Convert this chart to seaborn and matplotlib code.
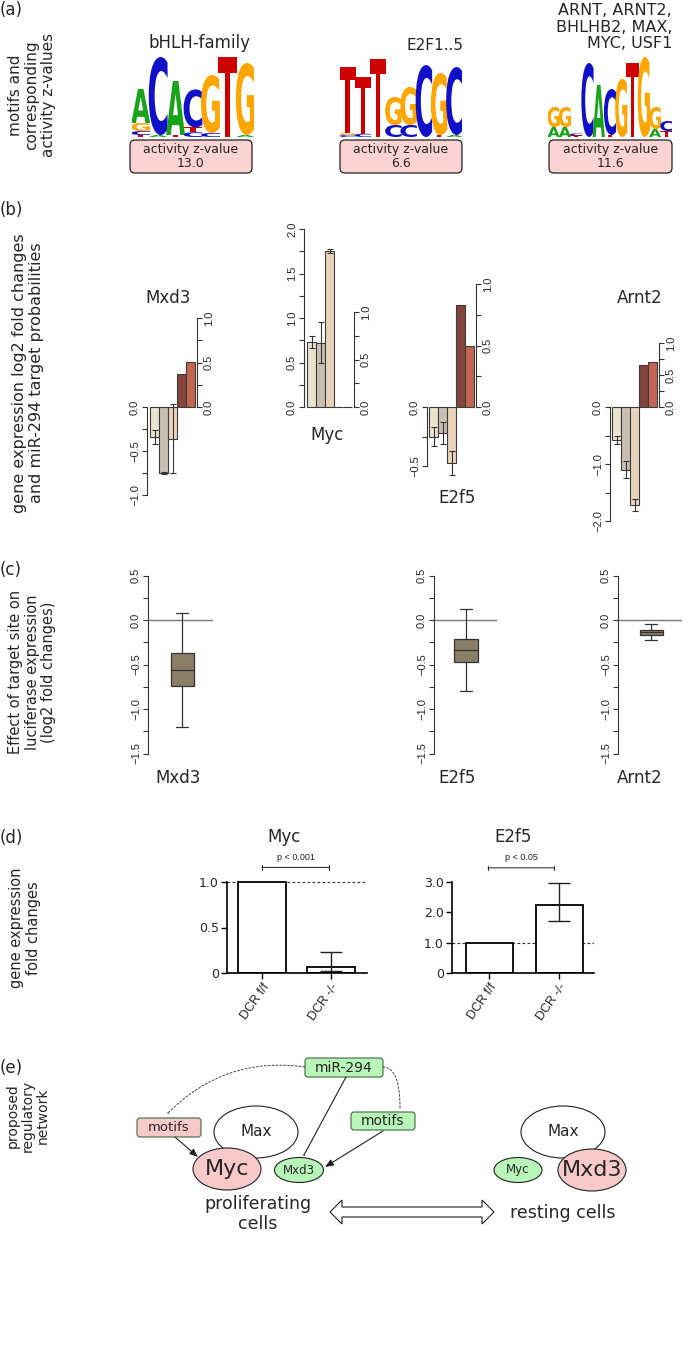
import numpy as np
import pandas as pd
import matplotlib
matplotlib.use('Agg')
import matplotlib.pyplot as plt
import seaborn as sns
from matplotlib.textpath import TextPath
from matplotlib.font_manager import FontProperties
from matplotlib.transforms import Affine2D
from matplotlib.patches import PathPatch, FancyBboxPatch, Ellipse, FancyArrowPatch, Polygon

sns.set_style('white')
plt.rcParams['font.family'] = ['DejaVu Sans']

# ---------------- data ----------------
# (a) motif logos: each position = letters stacked from the bottom, height in bits
logo_bhlh = [[('T', .05), ('C', .1), ('G', .2), ('A', .85)],
             [('A', .05), ('C', 1.95)],
             [('T', .05), ('A', 1.35)],
             [('C', .12), ('T', .12), ('C', .95)],
             [('C', .1), ('G', 1.45)],
             [('T', 2.0)],
             [('A', .05), ('G', 1.8)]]
logo_e2f = [[('C', .05), ('G', .05), ('T', 1.65)],
            [('C', .08), ('T', 1.42)],
            [('T', 1.95)],
            [('C', .3), ('G', .7)],
            [('C', .3), ('G', .95)],
            [('C', 1.8)],
            [('T', .05), ('G', 1.55)],
            [('A', .05), ('C', 1.7)]]
logo_arnt = [[('A', .25), ('G', .5)],
             [('A', .25), ('G', .5)],
             [('T', .04), ('C', .05)],
             [('C', 1.85)],
             [('A', 1.3)],
             [('T', .05), ('C', 1.15)],
             [('G', 1.45)],
             [('T', 1.85)],
             [('G', 2.0)],
             [('A', .2), ('G', .55)],
             [('T', .15), ('C', .25)]]
motif_names = ['bHLH-family', 'E2F1..5', 'ARNT, ARNT2,\nBHLHB2, MAX,\nMYC, USF1']
activity_z = [13.0, 6.6, 11.6]

# (b) log2 fold changes (3 conditions) with errors, and miR-294 target probabilities
mxd3_fc = [-0.34, -0.75, -0.36]
mxd3_err = [0.08, 0.01, 0.39]
mxd3_prob = [0.37, 0.51]
myc_fc = [0.73, 0.72, 1.75]
myc_err = [0.07, 0.23, 0.02]
myc_prob = [0.0, 0.0]
e2f5_fc = [-0.25, -0.22, -0.475]
e2f5_err = [0.08, 0.09, 0.10]
e2f5_prob = [0.83, 0.50]
arnt2_fc = [-0.58, -1.10, -1.72]
arnt2_err = [0.07, 0.15, 0.10]
arnt2_prob = [0.66, 0.70]

# (c) luciferase log2 fold changes: whisker low, q1, median, q3, whisker high
mxd3_luc = [-1.20, -0.74, -0.56, -0.37, 0.08]
e2f5_luc = [-0.80, -0.47, -0.34, -0.21, 0.12]
arnt2_luc = [-0.23, -0.17, -0.14, -0.11, -0.04]

# (d) fold changes in DCR f/f vs DCR -/-
dcr_groups = ['DCR f/f', 'DCR -/-']
myc_fold = [1.0, 0.07]
myc_fold_lo = [0.0, 0.05]
myc_fold_hi = [0.0, 0.16]
e2f5_fold = [1.0, 2.25]
e2f5_fold_lo = [0.0, 0.53]
e2f5_fold_hi = [0.0, 0.72]
p_labels = ['p < 0.001', 'p < 0.05']

# ---------------- figure ----------------
W, H = 697, 1351
fig = plt.figure(figsize=(W / 100, H / 100), dpi=100)


def px_axes(x0, x1, y0, y1):
    return fig.add_axes([x0 / W, 1 - y1 / H, (x1 - x0) / W, (y1 - y0) / H])


RFONT = 'Liberation Sans'
LOGO_COL = {'A': '#19a319', 'C': '#1010c8', 'G': '#ffa500', 'T': '#cf0000'}
logo_font = FontProperties(family='DejaVu Sans', weight='bold')


def draw_logo(ax, logo):
    for i, col in enumerate(logo):
        base = 0
        for ch, h in col:
            tp = TextPath((0, 0), ch, size=1, prop=logo_font)
            bb = tp.get_extents()
            tr = (Affine2D().translate(-bb.x0, -bb.y0)
                  .scale(1.08 / bb.width, h / bb.height).translate(i - 0.04, base))
            ax.add_patch(PathPatch(tr.transform_path(tp), fc=LOGO_COL[ch], ec='none'))
            base += h
    ax.set_xlim(0, len(logo))
    ax.set_ylim(0, 2)
    ax.axis('off')


# (a) logos
for logo, (x0, x1) in zip([logo_bhlh, logo_e2f, logo_arnt], [(132, 254), (340, 462), (548, 672)]):
    draw_logo(px_axes(x0, x1, 57, 137), logo)

# (b) expression bars
beige = ['#efe7c9', '#cdbfad', '#f0d4b2']
reds = ['#8e3b2f', '#d5583f']


def fmt(v):
    return ('%.1f' % v).replace('-', '\u2212')


def expr_panel(fc, err, prob, spine_l, bar0, spine_r, s_l, s_r, lbounds, lmajor, lminor):
    y0, ytop, ybot = 407, 215, 530
    ax = px_axes(spine_l, spine_r, ytop, ybot)
    ax.patch.set_alpha(0)
    ax2 = ax.twinx()
    xs, xr = [0, 1, 2], [3, 4]
    sns.barplot(x=xs, y=fc, hue=['c1', 'c2', 'c3'], palette=beige, native_scale=True,
                width=1, dodge=False, legend=False, errorbar=None,
                edgecolor='#3c3c3c', linewidth=0.8, ax=ax)
    ax.errorbar(xs, fc, yerr=err, fmt='none', ecolor='#333333', elinewidth=0.8,
                capsize=2, capthick=0.8)
    sns.barplot(x=xr, y=prob, hue=['p1', 'p2'], palette=reds, native_scale=True,
                width=1, dodge=False, legend=False, errorbar=None,
                edgecolor='#3c3c3c', linewidth=0.8, ax=ax2)
    ax.set_ylim(-(ybot - y0) / s_l, (y0 - ytop) / s_l)
    ax2.set_ylim(-(ybot - y0) / s_r, (y0 - ytop) / s_r)
    xl = -0.5 - (bar0 - spine_l) / 9
    ax.set_xlim(xl, xl + (spine_r - spine_l) / 9)
    for a in (ax, ax2):
        a.set_xticks([])
        a.set_ylabel('')
        a.set_xlabel('')
        for s in a.spines.values():
            s.set_visible(False)
    ax.spines['left'].set_visible(True)
    ax.spines['left'].set_bounds(*lbounds)
    ax2.spines['right'].set_visible(True)
    ax2.spines['right'].set_bounds(0, 1)
    for a, side in ((ax, 'left'), (ax2, 'right')):
        a.spines[side].set_color('#333333')
        a.spines[side].set_linewidth(0.8)
    ax.set_yticks(lmajor)
    ax.set_yticks(lminor, minor=True)
    ax.set_yticklabels([fmt(v) for v in lmajor], rotation=90, va='center',
                       fontfamily=RFONT, fontsize=8)
    ax2.set_yticks([0, 0.5, 1.0])
    ax2.set_yticks([0.25, 0.75], minor=True)
    ax2.set_yticklabels([fmt(v) for v in [0, 0.5, 1.0]], rotation=90, va='center',
                        fontfamily=RFONT, fontsize=8)
    ax.tick_params(axis='y', which='both', left=True, right=False, direction='out',
                   length=3.5, width=0.8, color='#333333', pad=1.5)
    ax2.tick_params(axis='y', which='both', right=True, left=False, direction='out',
                    length=3.5, width=0.8, color='#333333', pad=1.5)


expr_panel(mxd3_fc, mxd3_err, mxd3_prob, 147, 150, 197, 88, 89, (-1, 0),
           [0, -0.5, -1.0], [-0.25, -0.75])
expr_panel(myc_fc, myc_err, myc_prob, 304, 307, 354, 89, 95, (0, 2),
           [0, 0.5, 1.0, 1.5, 2.0], [0.25, 0.75, 1.25, 1.75])
expr_panel(e2f5_fc, e2f5_err, e2f5_prob, 427, 429, 476, 118, 123, (-0.5, 0),
           [0, -0.5], [-0.25])
expr_panel(arnt2_fc, arnt2_err, arnt2_prob, 610, 612, 659, 57, 64, (-2, 0),
           [0, -1.0, -2.0], [-0.5, -1.5])

# (c) luciferase boxplots
box_col = '#8b7e66'


def luc_panel(vals, spine_l, center, box_w, right):
    y0, ytop, ybot, s = 620, 565, 762, 89
    ax = px_axes(spine_l, right, ytop, ybot)
    ax.patch.set_alpha(0)
    sns.boxplot(y=vals, width=0.4, color=box_col, linecolor='#333333', linewidth=0.9,
                saturation=1, ax=ax)
    ax.axhline(0, color='#7a7a7a', lw=1.0, zorder=0)
    unit = box_w / 0.4
    ax.set_xlim(-(center - spine_l) / unit, (right - center) / unit)
    ax.set_ylim(-(ybot - y0) / s, (y0 - ytop) / s)
    ax.set_xticks([])
    ax.set_ylabel('')
    for k in ('top', 'right', 'bottom'):
        ax.spines[k].set_visible(False)
    ax.spines['left'].set_bounds(-1.5, 0.5)
    ax.spines['left'].set_color('#333333')
    ax.spines['left'].set_linewidth(0.8)
    major = [0.5, 0.0, -0.5, -1.0, -1.5]
    ax.set_yticks(major)
    ax.set_yticks([0.25, -0.25, -0.75, -1.25], minor=True)
    ax.set_yticklabels([fmt(v) for v in major], rotation=90, va='center',
                       fontfamily=RFONT, fontsize=8)
    ax.tick_params(axis='y', which='both', left=True, direction='out', length=3.5,
                   width=0.8, color='#333333', pad=1.5)


luc_panel(mxd3_luc, 148, 182, 23, 213)
luc_panel(e2f5_luc, 434, 466, 24, 497)
luc_panel(arnt2_luc, 618, 651, 23, 682)


# (d) qPCR fold changes
def fold_panel(vals, lo, hi, left, right, c0, c1, bw, s, ymax, yt, ytl, bracket, ptxt):
    y0, ytop, ybot = 973, 850, 973
    ax = px_axes(left, right, ytop, ybot)
    ax.patch.set_alpha(0)
    sp = c1 - c0
    sns.barplot(x=dcr_groups, y=vals, color='white', edgecolor='black', linewidth=1.3,
                width=bw / sp, errorbar=None, saturation=1, ax=ax)
    ax.errorbar([1], [vals[1]], yerr=[[lo[1]], [hi[1]]], fmt='none', ecolor='#222222',
                elinewidth=1.0, capsize=8, capthick=1.0)
    ax.axhline(1.0, color='#333333', lw=0.8, ls=(0, (2.5, 2)), zorder=0)
    ax.set_xlim(-(c0 - left) / sp, 1 + (right - c1) / sp)
    ax.set_ylim(0, (y0 - ytop) / s)
    for k in ('top', 'right'):
        ax.spines[k].set_visible(False)
    for k in ('left', 'bottom'):
        ax.spines[k].set_color('black')
        ax.spines[k].set_linewidth(1.2)
    ax.spines['left'].set_bounds(0, ymax)
    ax.set_yticks(yt)
    ax.set_yticklabels(ytl, fontsize=9)
    ax.set_xticks([0, 1])
    ax.set_xticklabels(dcr_groups, rotation=55, ha='right', rotation_mode='anchor',
                       fontfamily=RFONT, fontsize=9)
    ax.tick_params(axis='both', left=True, bottom=True, direction='out', length=4,
                   width=1.0, color='black', pad=2)
    ax.set_xlabel('')
    ax.set_ylabel('')
    bx0, bx1, by = bracket
    ax.annotate('', xy=(bx0, by), xytext=(bx1, by), annotation_clip=False,
                arrowprops=dict(arrowstyle='|-|,widthA=0.15,widthB=0.15', lw=0.8,
                                color='#333333', shrinkA=0, shrinkB=0))
    ax.text((bx0 + bx1) / 2, by + 0.06 * ymax, ptxt, ha='center', va='bottom',
            fontfamily=RFONT, fontsize=6.5, color='#222222')


fold_panel(myc_fold, myc_fold_lo, myc_fold_hi, 227, 367, 262, 331, 48, 91, 1.0,
           [0, 0.5, 1.0], ['0', '0.5', '1.0'], (0.0, 0.97, 1.16), p_labels[0])
fold_panel(e2f5_fold, e2f5_fold_lo, e2f5_fold_hi, 452, 594, 489.5, 559, 47, 30.3, 3.0,
           [0, 1, 2, 3], ['0', '1.0', '2.0', '3.0'], (-0.02, 0.93, 3.47), p_labels[1])

# ---------------- overlay: texts, boxes and the network sketch ----------------
ov = fig.add_axes([0, 0, 1, 1], zorder=10)
ov.set_xlim(0, W)
ov.set_ylim(H, 0)
ov.axis('off')

for lab, y in zip(['(a)', '(b)', '(c)', '(d)', '(e)'], [10, 210, 570, 838, 1068]):
    ov.text(0, y, lab, ha='left', va='center', fontsize=12)

ov.text(32, 95, 'motifs and\ncorresponding\nactivity z-values', rotation=90,
        ha='center', va='center', fontsize=11, linespacing=1.1)
ov.text(28, 373, 'gene expression log2 fold changes\nand miR-294 target probabilities',
        rotation=90, ha='center', va='center', fontsize=11.5, linespacing=1.1)
ov.text(32, 672, 'Effect of target site on\nluciferase expression\n(log2 fold changes)',
        rotation=90, ha='center', va='center', fontsize=10.5, linespacing=1.1)
ov.text(25, 928, 'gene expression\nfold changes', rotation=90,
        ha='center', va='center', fontsize=10.5, linespacing=1.1)
ov.text(28, 1116, 'proposed\nregulatory\nnetwork', rotation=90,
        ha='center', va='center', fontsize=10, linespacing=1.1)

# (a) motif names and activity boxes
ov.text(200, 43, motif_names[0], ha='center', va='center', fontsize=12)
ov.text(463, 45, motif_names[1], ha='right', va='center', fontsize=11)
ov.text(672, 27, motif_names[2], ha='right', va='center', fontsize=11.5, linespacing=1.15)
for z, (x0, x1) in zip(activity_z, [(130, 252), (340, 462), (549, 672)]):
    ov.add_patch(FancyBboxPatch((x0, 140), x1 - x0, 33, boxstyle='round,pad=0,rounding_size=5',
                                fc='#fbd3d3', ec='#222222', lw=0.9))
    ov.text((x0 + x1) / 2, 156.5, 'activity z-value\n%.1f' % z, ha='center', va='center',
            fontsize=9, linespacing=1.15)

# (b), (c) gene names
for name, x, y in [('Mxd3', 168, 298), ('Myc', 327, 435), ('E2f5', 457, 498),
                   ('Arnt2', 640, 298), ('Mxd3', 178, 778), ('E2f5', 457, 778),
                   ('Arnt2', 640, 778), ('Myc', 284, 837), ('E2f5', 513, 837)]:
    ov.text(x, y, name, ha='center', va='center', fontsize=12)

# (e) network
green, pink = '#b8f5b8', '#f8c9c9'
for (x0, y0, x1, y1), fc, txt, fs in [((305, 1058, 383, 1077), green, 'miR-294', 10),
                                      ((137, 1118, 201, 1137), pink, 'motifs', 9.5),
                                      ((351, 1112, 415, 1130), green, 'motifs', 10)]:
    ov.add_patch(FancyBboxPatch((x0, y0), x1 - x0, y1 - y0, boxstyle='round,pad=0,rounding_size=3',
                                fc=fc, ec='#446644', lw=0.8))
    ov.text((x0 + x1) / 2, (y0 + y1) / 2, txt, ha='center', va='center', fontsize=fs)

for (cx, cy, w, h), fc, txt, fs in [((256, 1132, 84, 52), 'white', 'Max', 11),
                                    ((227, 1169, 68, 42), pink, 'Myc', 16),
                                    ((299, 1170, 49, 25), green, 'Mxd3', 8.5),
                                    ((563, 1132, 84, 52), 'white', 'Max', 11),
                                    ((518, 1170, 48, 25), green, 'Myc', 8.5),
                                    ((592, 1170, 68, 42), pink, 'Mxd3', 16)]:
    ov.add_patch(Ellipse((cx, cy), w, h, fc=fc, ec='#222222', lw=0.8))
    ov.text(cx, cy, txt, ha='center', va='center', fontsize=fs)

tbar = '-[,widthB=0.35,lengthB=0'
ov.add_patch(FancyArrowPatch((305, 1067), (168, 1113), connectionstyle='arc3,rad=0.25',
                             arrowstyle=tbar, ls=(0, (2, 2)), lw=0.7, color='#444444',
                             shrinkA=0, shrinkB=0))
ov.add_patch(FancyArrowPatch((383, 1067), (400, 1108), connectionstyle='angle3,angleA=0,angleB=90',
                             arrowstyle=tbar, ls=(0, (2, 2)), lw=0.7, color='#444444',
                             shrinkA=0, shrinkB=0))
ov.add_patch(FancyArrowPatch((346, 1077), (304, 1155), arrowstyle=tbar, lw=0.8,
                             color='#222222', shrinkA=0, shrinkB=0))
for a, b in [((175, 1137), (198, 1157)), ((383, 1131), (325, 1167))]:
    ov.add_patch(FancyArrowPatch(a, b, arrowstyle='-|>,head_length=5,head_width=2', lw=0.8,
                                 color='#222222', shrinkA=0, shrinkB=0))

ov.text(258, 1214, 'proliferating\ncells', ha='center', va='center', fontsize=12.5,
        linespacing=1.2)
ov.text(563, 1213, 'resting cells', ha='center', va='center', fontsize=12.5)
ax0, ax1, ay, bh, hh, hl = 330, 494, 1212, 5, 12, 12
ov.add_patch(Polygon([(ax0, ay), (ax0 + hl, ay - hh), (ax0 + hl, ay - bh), (ax1 - hl, ay - bh),
                      (ax1 - hl, ay - hh), (ax1, ay), (ax1 - hl, ay + hh), (ax1 - hl, ay + bh),
                      (ax0 + hl, ay + bh), (ax0 + hl, ay + hh)], closed=True,
                     fc='white', ec='#222222', lw=0.8))

fig.savefig('out.png', dpi=100)
